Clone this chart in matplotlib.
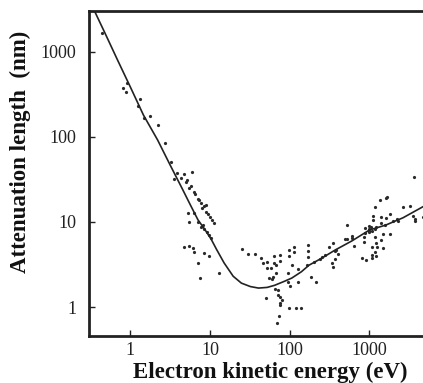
import matplotlib
matplotlib.use("Agg")
import matplotlib.pyplot as plt
from matplotlib.ticker import FixedLocator, FixedFormatter, NullLocator

# Universal curve
curve_E = [0.36, 0.48, 0.7, 1.0, 1.46, 2.2, 3.2, 4.5, 5.6, 7.05, 8.5, 10.3, 12, 15, 19.5,
           24.7, 32, 40.5, 52, 64.6, 85, 106, 140, 174, 254, 371, 600, 1000, 1600, 2630, 5100]
curve_L = [2950, 1670, 783, 387, 181, 92, 45.6, 24.4, 16.2, 10.6, 8.3, 6.3, 4.8, 3.3, 2.3,
           1.91, 1.74, 1.67, 1.70, 1.80, 2.0, 2.19, 2.6, 3.1, 3.77, 4.68, 5.98, 8.05, 9.2, 11.2, 15.8]

pts_E = [0.44, 0.81, 0.89, 0.92, 1.34, 1.23, 1.74, 1.50, 2.2, 2.69, 3.21, 3.82, 4.69, 5.92,
         4.3, 3.5, 4.97, 5.42, 6.27, 7.05, 7.69, 8.9, 7.92, 8.9, 10, 11.2, 5.27, 5.42, 7.05,
         7.69, 8.15, 8.39, 9.16, 9.71, 10.3, 6.27, 5.12, 5.75, 6.46, 7.26, 8.39, 9.43, 10.6,
         4.69, 5.42, 6.09, 6.27, 8.39, 9.71, 7.05, 7.47, 13.0,
         25.4, 30.3, 37.1, 43.0, 45.5, 51.2, 62.7, 74.7, 62.7, 66.5, 51.2, 57.5, 74.7, 97.1,
         112, 112, 97.1, 169, 169, 169, 106, 126, 94.3, 66.5, 54.2, 59.2, 60.9, 94.3, 100,
         126, 185, 213, 64.6, 70.5, 49.7, 70.5, 74.7, 79.2, 74.7, 74.7, 97.1, 119, 138, 72.6,
         68.5, 312, 340, 350, 254, 277, 164, 200, 240,
         350, 371, 382, 405, 371, 527, 497, 527, 609, 646, 609, 3600, 1160, 1340, 1600, 2620,
         3210, 1120, 1120, 1380, 1600, 1790, 1950, 2260, 3500, 3710, 4690, 1030, 1190, 1380,
         1550, 890, 890, 865, 1000, 1090, 1160, 1460, 1790, 1160, 1380, 865, 1190, 1090, 1260,
         1460, 1160, 1090, 815, 916, 1060, 1190, 2200, 1640, 975, 1000, 975, 3710]
pts_L = [1670, 377, 338, 432, 280, 232, 177, 167, 138, 85, 51, 37.7, 36.7, 38.7,
         32.9, 32, 29.5, 25.1, 22.5, 18.7, 16.7, 15.8, 14.6, 13.1, 11.5, 9.73, 12.8, 10, 10,
         8.73, 9.22, 8.27, 7.63, 7.03, 6.48, 12.8, 31, 26.5, 21.4, 18.2, 15.4, 12.4, 10.6,
         5.08, 5.22, 4.94, 4.44, 4.32, 3.98, 3.29, 2.19, 2.51,
         4.81, 4.2, 4.2, 3.77, 3.29, 3.38, 3.98, 4.09, 3.29, 3.12, 2.88, 2.88, 3.48, 4.68,
         5.08, 4.44, 3.98, 5.36, 4.56, 3.87, 3.12, 2.8, 2.51, 2.51, 2.19, 2.13, 2.25, 1.97, 1.77,
         1.97, 2.25, 1.97, 1.63, 1.58, 1.28, 1.38, 1.31, 1.21, 1.11, 1.06, 0.97, 0.97, 0.97, 0.78,
         0.65, 5.08, 3.29, 2.96, 3.87, 4.09, 3.12, 3.38, 3.67,
         5.66, 4.56, 4.68, 4.2, 3.67, 9.22, 6.31, 6.31, 6.48, 5.22, 6.84, 33.8, 15.0, 18.2, 19.2, 15.0,
         15.4, 11.8, 10.6, 11.5, 11.1, 12.4, 10.3, 10.3, 11.8, 10.3, 11.5, 8.73, 8.73, 9.73,
         9.22, 8.5, 7.42, 6.66, 7.63, 7.84, 8.27, 7.22, 7.22, 6.66, 6.14, 5.82, 5.66, 5.08, 5.08,
         4.94, 4.44, 4.09, 3.77, 3.57, 3.77, 3.98, 10.8, 19.7, 8.97, 8.27, 7.84, 10.8]

x_ticks = [1, 10, 100, 1000]
x_labels = ["1", "10", "100", "1000"]
y_ticks = [1, 10, 100, 1000]
y_labels = ["1", "10", "100", "1000"]

plt.rcParams['font.family'] = ['Liberation Serif', 'DejaVu Serif']

fig = plt.figure(figsize=(4.23, 3.83), dpi=100)
ax = fig.add_axes([89/423, 1 - 336/383, 1 - 89/423 + 0.01, (336 - 11)/383])
ax.set_xscale('log')
ax.set_yscale('log')
ax.set_xlim(0.303, 5300)
ax.set_ylim(0.456, 3030)

ax.plot(pts_E, pts_L, linestyle='none', marker='o', markersize=2.3,
        markeredgewidth=0, color='#2a2a2a')
ax.plot(curve_E, curve_L, color='#222222', lw=1.2)

ax.xaxis.set_major_locator(FixedLocator(x_ticks))
ax.xaxis.set_major_formatter(FixedFormatter(x_labels))
ax.yaxis.set_major_locator(FixedLocator(y_ticks))
ax.yaxis.set_major_formatter(FixedFormatter(y_labels))
ax.xaxis.set_minor_locator(NullLocator())
ax.yaxis.set_minor_locator(NullLocator())
ax.tick_params(axis='both', direction='in', length=4, width=1.0, labelsize=13,
               colors='#222222')
ax.tick_params(axis='x', pad=4)
ax.tick_params(axis='y', pad=9)
ax.tick_params(top=False, right=False)

for s in ['left', 'bottom', 'top']:
    ax.spines[s].set_linewidth(2.0)
    ax.spines[s].set_color('#222222')
ax.spines['right'].set_visible(False)

ax.set_xlabel('Electron kinetic energy (eV)', fontsize=16.5, fontweight='bold', color='#111111')
ax.set_ylabel('Attenuation length  (nm)', fontsize=16.5, fontweight='bold', color='#111111')
ax.xaxis.set_label_coords((268 - 89) / (423 - 89), (336 - 362) / (336 - 11))
ax.yaxis.set_label_coords((21 - 89) / (423 - 89), (336 - 152) / (336 - 11))
ax.yaxis.label.set_va('center')

fig.savefig('out.png', dpi=100)
